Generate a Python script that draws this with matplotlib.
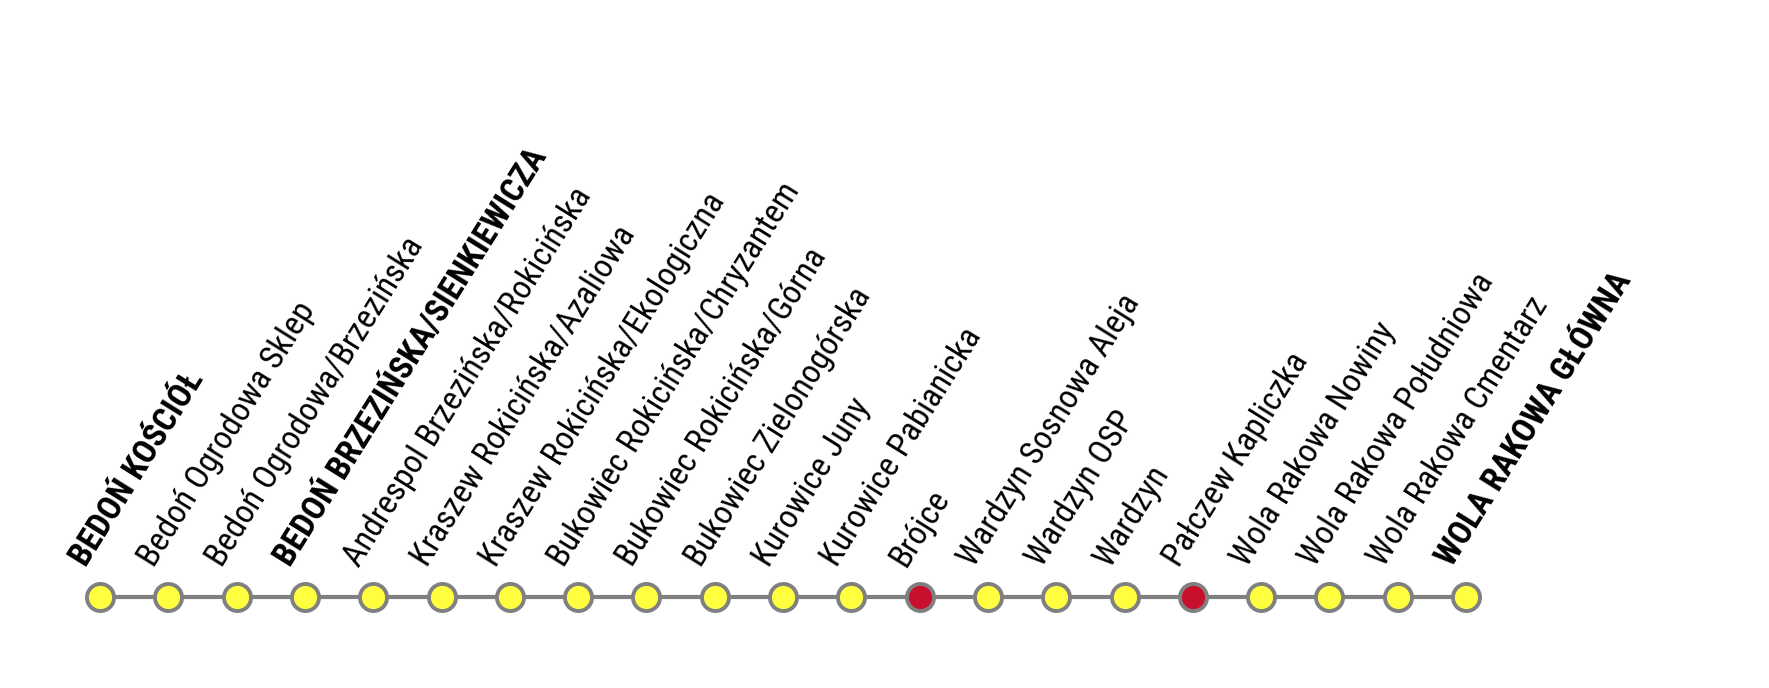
import matplotlib
matplotlib.use("Agg")
import matplotlib.pyplot as plt

stops = ["BEDOŃ KOŚCIÓŁ", "Bedoń Ogrodowa Sklep", "Bedoń Ogrodowa/Brzezińska",
         "BEDOŃ BRZEZIŃSKA/SIENKIEWICZA", "Andrespol Brzezińska/Rokicińska",
         "Kraszew Rokicińska/Azaliowa", "Kraszew Rokicińska/Ekologiczna",
         "Bukowiec Rokicińska/Chryzantem", "Bukowiec Rokicińska/Górna",
         "Bukowiec Zielonogórska", "Kurowice Juny", "Kurowice Pabianicka",
         "Brójce", "Wardzyn Sosnowa Aleja", "Wardzyn OSP", "Wardzyn",
         "Pałczew Kapliczka", "Wola Rakowa Nowiny", "Wola Rakowa Południowa",
         "Wola Rakowa Cmentarz", "WOLA RAKOWA GŁÓWNA"]
bold = [True, False, False, True] + [False]*16 + [True]
red = [False]*12 + [True] + [False]*3 + [True] + [False]*4

fig = plt.figure(figsize=(17.69, 6.88), dpi=100)
ax = fig.add_axes([0, 0, 1, 1])
x0 = 100
sp = 68.3
ax.set_xlim(-x0/sp, (1769-x0)/sp)
ax.set_ylim(0, 688)
ax.axis("off")
y = 688-597
xs = list(range(len(stops)))
ax.plot(xs, [y]*len(xs), color="#808080", lw=3, zorder=1)
for x, s, b, r in zip(xs, stops, bold, red):
    ax.scatter([x], [y], s=380, color="#c8102e" if r else "#ffff40",
               edgecolor="#808080", linewidths=2.8, zorder=3)
    ax.text(x - 0.12, y + 25, s, rotation=58, rotation_mode="anchor",
            ha="left", va="bottom", fontsize=24, family=["Roboto Condensed", "Roboto", "DejaVu Sans"],
            fontweight="bold" if b else "normal", color="black")
fig.savefig("out.png", dpi=100)
